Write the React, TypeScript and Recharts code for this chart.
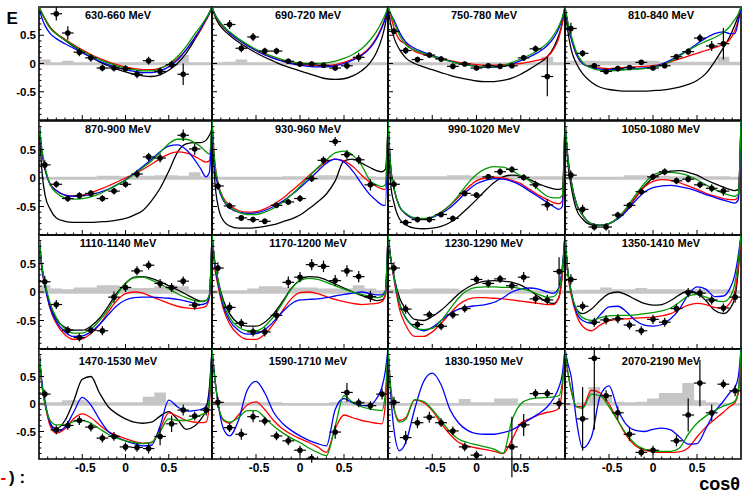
import React from 'react';
import { ComposedChart, Line, Area, Scatter, ErrorBar, XAxis, YAxis, ReferenceArea } from 'recharts';

// ---------- shared axes / binning ----------
const cosGrid = [-1, -0.97, -0.93, -0.87, -0.8, -0.7, -0.6, -0.5, -0.4, -0.3, -0.2, -0.1, 0, 0.1, 0.2, 0.3, 0.4, 0.5, 0.6, 0.7, 0.8, 0.87, 0.93, 0.97, 1];
const binCenters = [-0.933, -0.8, -0.667, -0.533, -0.4, -0.267, -0.133, 0, 0.133, 0.267, 0.4, 0.533, 0.667, 0.8, 0.933];
const binEdges = [-1, -0.867, -0.733, -0.6, -0.467, -0.333, -0.2, -0.067, 0.067, 0.2, 0.333, 0.467, 0.6, 0.733, 0.867, 1];
const binHalfWidth = 0.0667;
const minorTicks = [-0.9, -0.8, -0.7, -0.6, -0.5, -0.4, -0.3, -0.2, -0.1, 0, 0.1, 0.2, 0.3, 0.4, 0.5, 0.6, 0.7, 0.8, 0.9];
const majorTicks = [-0.5, 0, 0.5];
const histBase = -0.03;

const titles = [
  '630-660 MeV', '690-720 MeV', '750-780 MeV', '810-840 MeV',
  '870-900 MeV', '930-960 MeV', '990-1020 MeV', '1050-1080 MeV',
  '1110-1140 MeV', '1170-1200 MeV', '1230-1290 MeV', '1350-1410 MeV',
  '1470-1530 MeV', '1590-1710 MeV', '1830-1950 MeV', '2070-2190 MeV',
];

// ---------- measured E (per bin centre), null = no point ----------
const e1 = [null, 0.88, 0.54, 0.20, 0.10, -0.08, -0.08, -0.09, -0.19, 0.05, -0.14, -0.02, -0.19, null, null];
const s1 = [0, 0.12, 0.12, 0.07, 0.07, 0.06, 0.06, 0.06, 0.07, 0.07, 0.07, 0.07, 0.19, 0, 0];
const e2 = [null, 0.69, 0.27, 0.47, 0.22, 0.22, 0.04, -0.01, -0.01, -0.03, -0.08, -0.04, 0.11, null, null];
const s2 = [0, 0.08, 0.07, 0.07, 0.06, 0.06, 0.05, 0.05, 0.05, 0.05, 0.05, 0.06, 0.08, 0, 0];
const e3 = [0.57, 0.23, 0.07, 0.15, 0.08, -0.05, -0.01, -0.08, -0.04, -0.05, -0.04, 0.10, 0.26, -0.23, null];
const s3 = [0.06, 0.06, 0.05, 0.05, 0.05, 0.05, 0.04, 0.04, 0.04, 0.04, 0.04, 0.05, 0.06, 0.35, 0];
const e4 = [0.62, 0.18, -0.04, -0.14, -0.09, -0.07, 0.02, -0.08, -0.04, 0.12, 0.21, 0.45, 0.31, 0.35, null];
const s4 = [0.1, 0.06, 0.05, 0.05, 0.05, 0.04, 0.04, 0.04, 0.04, 0.05, 0.06, 0.07, 0.09, 0.28, 0];
const e5 = [0.23, -0.11, -0.36, -0.31, -0.27, -0.36, -0.23, -0.11, 0.07, 0.37, 0.35, null, 0.75, 0.51, null];
const s5 = [0.08, 0.06, 0.06, 0.06, 0.06, 0.06, 0.06, 0.06, 0.07, 0.07, 0.08, 0, 0.1, 0.1, 0];
const e6 = [-0.14, -0.49, -0.70, -0.73, -0.76, -0.48, -0.42, -0.36, -0.01, 0.31, 0.64, 0.41, 0.32, -0.12, null];
const s6 = [0.07, 0.06, 0.05, 0.05, 0.05, 0.05, 0.05, 0.06, 0.06, 0.07, 0.08, 0.08, 0.08, 0.1, 0];
const e7 = [-0.11, -0.78, -0.73, -0.73, -0.64, -0.71, -0.27, -0.30, 0.02, 0.11, 0.15, 0.01, -0.12, -0.47, null];
const s7 = [0.08, 0.05, 0.05, 0.05, 0.05, 0.05, 0.05, 0.05, 0.05, 0.06, 0.06, 0.06, 0.07, 0.1, 0];
const e8 = [0.05, -0.55, -0.86, -0.86, -0.65, -0.48, -0.24, 0.02, 0.11, -0.05, -0.02, -0.12, -0.18, -0.23, null];
const s8 = [0.08, 0.08, 0.06, 0.06, 0.06, 0.06, 0.06, 0.06, 0.06, 0.06, 0.06, 0.06, 0.07, 0.08, 0];
const e9 = [0.18, -0.22, -0.67, -0.80, -0.67, -0.68, -0.09, 0.08, 0.37, 0.47, 0.15, 0.08, 0.19, -0.23, null];
const s9 = [0.1, 0.08, 0.07, 0.07, 0.07, 0.08, 0.1, 0.08, 0.08, 0.08, 0.08, 0.08, 0.08, 0.08, 0];
const e10 = [0.42, -0.27, -0.55, -0.70, -0.70, -0.41, 0.17, 0.26, 0.48, 0.45, 0.20, 0.37, 0.27, -0.08, null];
const s10 = [0.1, 0.09, 0.08, 0.08, 0.08, 0.09, 0.1, 0.09, 0.1, 0.1, 0.1, 0.1, 0.1, 0.1, 0];
const e11 = [0.42, -0.30, -0.57, -0.40, -0.60, -0.40, -0.29, 0.22, 0.15, 0.23, 0.11, 0.26, -0.12, -0.14, 0.36];
const s11 = [0.1, 0.08, 0.07, 0.07, 0.07, 0.07, 0.07, 0.07, 0.07, 0.07, 0.07, 0.09, 0.09, 0.09, 0.25];
const e12 = [0.22, -0.25, -0.53, -0.49, -0.47, -0.58, -0.68, -0.48, -0.53, -0.29, -0.01, -0.02, -0.14, -0.28, -0.09];
const s12 = [0.09, 0.08, 0.08, 0.08, 0.08, 0.08, 0.08, 0.08, 0.08, 0.08, 0.08, 0.08, 0.08, 0.08, 0.1];
const e13 = [0.18, -0.47, -0.39, -0.30, -0.42, -0.62, -0.59, -0.78, -0.79, -0.81, -0.59, -0.36, -0.11, -0.22, -0.11];
const s13 = [0.08, 0.08, 0.08, 0.08, 0.08, 0.08, 0.08, 0.08, 0.08, 0.09, 0.16, 0.15, 0.1, 0.08, 0.1];
const e14 = [0.03, -0.43, -0.55, -0.23, -0.31, -0.58, -0.67, -0.84, -0.99, null, -0.51, 0.21, 0.02, -0.03, 0.18];
const s14 = [0.1, 0.08, 0.1, 0.1, 0.08, 0.08, 0.08, 0.08, 0.08, 0, 0.12, 0.17, 0.08, 0.08, 0.1];
const e15 = [0.03, -0.61, -0.34, -0.24, -0.34, -0.49, -0.78, -0.93, null, null, -0.78, -0.38, 0.19, 0.19, 0.01];
const s15 = [0.1, 0.12, 0.1, 0.1, 0.08, 0.08, 0.08, 0.08, 0, 0, 0.55, 0.2, 0.08, 0.08, 0.1];
const e16 = [null, -0.27, 0.83, 0.15, -0.16, -0.55, -0.88, -0.84, null, -0.67, -0.2, 0.38, -0.16, 0.36, 0.24];
const s16 = [0, 0.58, 1.3, 0.1, 0.12, 0.12, 0.08, 0.08, 0, 0.1, 0.3, 0.42, 0.15, 0.08, 0.1];

// ---------- systematic-error histograms (per bin) ----------
const h1 = [0.07, 0.02, 0.05, 0.02, 0.02, 0.02, 0.02, 0.02, 0.02, 0.02, 0.02, 0.02, 0.15, 0.02, 0.02];
const h2 = [0.02, 0.03, 0.07, 0.02, 0.02, 0.02, 0.02, 0.02, 0.02, 0.02, 0.02, 0.02, 0.02, 0.02, 0.02];
const h3 = [0.02, 0.02, 0.02, 0.02, 0.02, 0.02, 0.02, 0.02, 0.02, 0.02, 0.02, 0.02, 0.02, 0.12, 0.02];
const h4 = [0.05, 0.05, 0.05, 0.04, 0.04, 0.04, 0.05, 0.05, 0.03, 0.03, 0.03, 0.03, 0.03, 0.12, 0.03];
const h5 = [0.02, 0.02, 0.02, 0.02, 0.02, 0.04, 0.04, 0.03, 0.04, 0.04, 0.05, 0.05, 0.04, 0.1, 0.03];
const h6 = [0.02, 0.02, 0.02, 0.02, 0.02, 0.02, 0.03, 0.03, 0.03, 0.05, 0.05, 0.04, 0.03, 0.03, 0.02];
const h7 = [0.03, 0.03, 0.03, 0.03, 0.03, 0.05, 0.05, 0.04, 0.04, 0.04, 0.04, 0.03, 0.03, 0.03, 0.03];
const h8 = [0.02, 0.02, 0.02, 0.02, 0.02, 0.05, 0.05, 0.04, 0.04, 0.03, 0.03, 0.03, 0.03, 0.03, 0.02];
const h9 = [0.12, 0.06, 0.05, 0.08, 0.08, 0.12, 0.12, 0.08, 0.07, 0.07, 0.1, 0.12, 0.1, 0.04, 0.04];
const h10 = [0.03, 0.03, 0.03, 0.06, 0.1, 0.1, 0.08, 0.08, 0.08, 0.06, 0.06, 0.06, 0.12, 0.06, 0.03];
const h11 = [0.05, 0.05, 0.06, 0.06, 0.06, 0.06, 0.04, 0.04, 0.04, 0.04, 0.04, 0.03, 0.03, 0.03, 0.03];
const h12 = [0.03, 0.04, 0.04, 0.08, 0.05, 0.05, 0.07, 0.05, 0.05, 0.05, 0.05, 0.05, 0.05, 0.05, 0.03];
const h13 = [0.03, 0.03, 0.07, 0.07, 0.04, 0.03, 0.03, 0.03, 0.03, 0.13, 0.21, 0.03, 0.03, 0.03, 0.02];
const h14 = [0.03, 0.03, 0.03, 0.03, 0.03, 0.03, 0.02, 0.02, 0.02, 0.02, 0.03, 0.05, 0.05, 0.04, 0.03];
const h15 = [0.02, 0.02, 0.02, 0.02, 0.02, 0.02, 0.09, 0.03, 0.03, 0.1, 0.1, 0.02, 0.02, 0.02, 0.02];
const h16 = [0.02, 0.03, 0.31, 0.15, 0.04, 0.03, 0.04, 0.1, 0.2, 0.2, 0.38, 0.07, 0.03, 0.02, 0.02];

// ---------- model curves on cosGrid (k=black, r=red, b=blue, g=green) ----------
const k1 = [1, 0.9, 0.79, 0.64, 0.53, 0.41, 0.3, 0.2, 0.11, 0.03, -0.04, -0.1, -0.15, -0.19, -0.22, -0.23, -0.2, -0.12, 0.0, 0.18, 0.42, 0.6, 0.78, 0.9, 1];
const r1 = [1, 0.9, 0.78, 0.63, 0.53, 0.43, 0.33, 0.24, 0.16, 0.09, 0.03, -0.02, -0.06, -0.09, -0.11, -0.11, -0.08, -0.02, 0.08, 0.24, 0.45, 0.6, 0.76, 0.88, 1];
const b1 = [1, 0.82, 0.67, 0.53, 0.44, 0.35, 0.27, 0.19, 0.11, 0.04, -0.02, -0.07, -0.11, -0.14, -0.16, -0.16, -0.13, -0.06, 0.06, 0.24, 0.46, 0.62, 0.78, 0.89, 1];
const g1 = [1, 0.9, 0.78, 0.62, 0.52, 0.42, 0.32, 0.22, 0.14, 0.07, 0.01, -0.04, -0.08, -0.11, -0.13, -0.13, -0.09, -0.01, 0.12, 0.3, 0.52, 0.66, 0.8, 0.9, 1];

const k2 = [1, 0.85, 0.72, 0.6, 0.5, 0.38, 0.28, 0.19, 0.11, 0.04, -0.03, -0.08, -0.13, -0.18, -0.23, -0.27, -0.28, -0.27, -0.22, -0.13, 0.02, 0.2, 0.45, 0.7, 1];
const r2 = [1, 0.87, 0.76, 0.64, 0.54, 0.42, 0.32, 0.23, 0.16, 0.1, 0.05, 0.01, -0.02, -0.03, -0.04, -0.04, -0.02, 0.02, 0.08, 0.16, 0.3, 0.46, 0.65, 0.82, 1];
const b2 = [1, 0.88, 0.77, 0.65, 0.54, 0.42, 0.32, 0.23, 0.15, 0.09, 0.04, 0.0, -0.03, -0.05, -0.06, -0.06, -0.04, 0.0, 0.06, 0.14, 0.28, 0.44, 0.63, 0.8, 1];
const g2 = [1, 0.88, 0.78, 0.66, 0.56, 0.44, 0.34, 0.25, 0.18, 0.12, 0.07, 0.03, 0.01, 0.0, 0.0, 0.01, 0.04, 0.09, 0.16, 0.26, 0.42, 0.57, 0.74, 0.87, 1];

const k3 = [1, 0.7, 0.45, 0.25, 0.1, 0.0, -0.06, -0.11, -0.16, -0.21, -0.25, -0.28, -0.31, -0.32, -0.32, -0.3, -0.26, -0.19, -0.1, 0.0, 0.12, 0.28, 0.5, 0.72, 1];
const r3 = [1, 0.85, 0.62, 0.42, 0.35, 0.22, 0.16, 0.12, 0.08, 0.05, 0.02, 0.0, -0.02, -0.03, -0.03, -0.02, -0.01, 0.0, 0.03, 0.06, 0.12, 0.25, 0.45, 0.72, 1];
const b3 = [1, 0.88, 0.76, 0.55, 0.38, 0.27, 0.2, 0.14, 0.09, 0.04, 0.0, -0.03, -0.05, -0.07, -0.07, -0.05, -0.01, 0.05, 0.12, 0.2, 0.32, 0.45, 0.62, 0.8, 1];
const g3 = [1, 0.88, 0.72, 0.5, 0.33, 0.24, 0.18, 0.13, 0.08, 0.04, 0.0, -0.03, -0.05, -0.06, -0.06, -0.04, 0.02, 0.08, 0.15, 0.24, 0.36, 0.5, 0.66, 0.82, 1];

const k4 = [1, 0.6, 0.25, 0.0, -0.18, -0.33, -0.42, -0.46, -0.48, -0.49, -0.49, -0.49, -0.48, -0.47, -0.45, -0.42, -0.37, -0.3, -0.18, 0.03, 0.28, 0.47, 0.68, 0.85, 1];
const r4 = [1, 0.72, 0.45, 0.16, 0.0, -0.06, -0.08, -0.09, -0.08, -0.07, -0.06, -0.05, -0.04, -0.01, 0.03, 0.08, 0.13, 0.18, 0.23, 0.28, 0.34, 0.42, 0.58, 0.78, 1];
const b4 = [1, 0.72, 0.45, 0.16, 0.0, -0.07, -0.1, -0.11, -0.11, -0.1, -0.09, -0.08, -0.06, -0.01, 0.06, 0.15, 0.24, 0.35, 0.45, 0.53, 0.56, 0.53, 0.53, 0.75, 1];
const g4 = [1, 0.75, 0.5, 0.2, 0.02, -0.08, -0.12, -0.13, -0.12, -0.11, -0.1, -0.09, -0.07, -0.03, 0.04, 0.13, 0.23, 0.32, 0.39, 0.46, 0.55, 0.65, 0.78, 0.88, 1];

const k5 = [1, 0.2, -0.3, -0.55, -0.7, -0.76, -0.78, -0.78, -0.78, -0.77, -0.76, -0.74, -0.71, -0.65, -0.57, -0.4, -0.18, 0.12, 0.45, 0.6, 0.62, 0.62, 0.66, 0.75, 0.85];
const r5 = [1, 0.5, 0.15, -0.1, -0.22, -0.3, -0.32, -0.3, -0.26, -0.2, -0.14, -0.07, 0.0, 0.07, 0.15, 0.24, 0.34, 0.42, 0.46, 0.44, 0.38, 0.32, 0.28, 0.3, 1];
const b5 = [1, 0.5, 0.15, -0.12, -0.22, -0.3, -0.32, -0.31, -0.29, -0.25, -0.2, -0.12, -0.03, 0.08, 0.2, 0.33, 0.46, 0.56, 0.58, 0.5, 0.32, 0.16, 0.02, 0.1, 1];
const g5 = [1, 0.55, 0.2, -0.12, -0.26, -0.35, -0.37, -0.36, -0.33, -0.28, -0.2, -0.12, -0.04, 0.06, 0.18, 0.3, 0.45, 0.6, 0.68, 0.68, 0.62, 0.55, 0.46, 0.42, 1];

const k6 = [1, 0.0, -0.5, -0.75, -0.84, -0.88, -0.88, -0.87, -0.85, -0.82, -0.77, -0.72, -0.65, -0.54, -0.42, -0.28, -0.05, 0.3, 0.33, 0.26, 0.18, 0.13, 0.11, 0.15, 0.85];
const r6 = [1, 0.3, -0.1, -0.35, -0.47, -0.57, -0.6, -0.59, -0.54, -0.46, -0.36, -0.23, -0.1, 0.04, 0.17, 0.28, 0.33, 0.3, 0.2, 0.05, -0.08, -0.15, -0.19, -0.2, 1];
const b6 = [1, 0.2, -0.15, -0.4, -0.52, -0.6, -0.62, -0.61, -0.57, -0.5, -0.41, -0.3, -0.17, -0.03, 0.12, 0.26, 0.33, 0.28, 0.12, -0.1, -0.3, -0.4, -0.47, -0.48, 1];
const g6 = [1, 0.3, -0.1, -0.38, -0.5, -0.6, -0.64, -0.64, -0.6, -0.53, -0.43, -0.3, -0.15, 0.02, 0.18, 0.32, 0.44, 0.47, 0.4, 0.22, -0.05, -0.12, -0.15, -0.12, 1];

const k7 = [1, -0.1, -0.45, -0.72, -0.82, -0.88, -0.89, -0.88, -0.85, -0.78, -0.67, -0.53, -0.38, -0.22, -0.08, 0.02, 0.05, 0.03, -0.03, -0.1, -0.16, -0.19, -0.2, -0.18, 1];
const r7 = [1, 0.2, -0.2, -0.5, -0.63, -0.71, -0.72, -0.69, -0.6, -0.48, -0.33, -0.17, -0.05, 0.0, 0.01, 0.0, -0.04, -0.1, -0.2, -0.3, -0.38, -0.43, -0.45, -0.4, 1];
const b7 = [1, 0.2, -0.2, -0.5, -0.63, -0.71, -0.72, -0.69, -0.62, -0.52, -0.38, -0.22, -0.1, -0.04, -0.01, -0.02, -0.06, -0.13, -0.23, -0.33, -0.43, -0.5, -0.55, -0.5, 1];
const g7 = [1, 0.2, -0.2, -0.5, -0.62, -0.7, -0.71, -0.68, -0.6, -0.48, -0.3, -0.1, 0.06, 0.16, 0.2, 0.19, 0.13, 0.04, -0.05, -0.2, -0.32, -0.35, -0.35, -0.3, 1];

const k8 = [1, 0.3, -0.15, -0.55, -0.72, -0.82, -0.83, -0.8, -0.7, -0.55, -0.35, -0.15, 0.0, 0.08, 0.12, 0.13, 0.1, 0.05, -0.03, -0.1, -0.16, -0.2, -0.22, -0.2, 1];
const r8 = [1, 0.4, -0.05, -0.45, -0.65, -0.8, -0.83, -0.8, -0.7, -0.54, -0.34, -0.16, -0.06, -0.03, -0.04, -0.08, -0.14, -0.2, -0.27, -0.32, -0.36, -0.38, -0.38, -0.32, 1];
const b8 = [1, 0.4, -0.05, -0.45, -0.65, -0.8, -0.83, -0.8, -0.72, -0.58, -0.4, -0.25, -0.17, -0.14, -0.13, -0.15, -0.18, -0.23, -0.29, -0.34, -0.39, -0.42, -0.44, -0.38, 1];
const g8 = [1, 0.4, -0.05, -0.45, -0.65, -0.8, -0.83, -0.8, -0.7, -0.52, -0.3, -0.1, 0.05, 0.1, 0.1, 0.08, 0.04, -0.03, -0.12, -0.2, -0.27, -0.3, -0.32, -0.28, 1];

const k9 = [1, 0.5, 0.15, -0.25, -0.48, -0.62, -0.67, -0.67, -0.6, -0.46, -0.25, -0.02, 0.15, 0.26, 0.27, 0.24, 0.18, 0.11, 0.04, -0.04, -0.12, -0.16, -0.15, -0.05, 1];
const r9 = [1, 0.45, 0.1, -0.3, -0.55, -0.75, -0.83, -0.82, -0.73, -0.57, -0.35, -0.15, -0.03, 0.0, -0.02, -0.08, -0.14, -0.2, -0.25, -0.28, -0.29, -0.28, -0.25, -0.1, 1];
const b9 = [1, 0.45, 0.1, -0.28, -0.52, -0.7, -0.78, -0.77, -0.7, -0.57, -0.4, -0.24, -0.14, -0.1, -0.09, -0.09, -0.1, -0.11, -0.13, -0.16, -0.2, -0.22, -0.2, -0.08, 1];
const g9 = [1, 0.5, 0.15, -0.2, -0.45, -0.65, -0.72, -0.72, -0.65, -0.5, -0.3, -0.05, 0.15, 0.25, 0.26, 0.21, 0.14, 0.06, -0.03, -0.1, -0.15, -0.17, -0.15, -0.05, 1];

const k10 = [1, 0.55, 0.2, -0.15, -0.38, -0.55, -0.6, -0.6, -0.53, -0.38, -0.17, 0.06, 0.21, 0.27, 0.26, 0.21, 0.14, 0.07, 0.0, -0.06, -0.12, -0.15, -0.14, -0.05, 1];
const r10 = [1, 0.45, 0.1, -0.3, -0.56, -0.75, -0.83, -0.83, -0.74, -0.56, -0.33, -0.12, -0.01, 0.0, -0.03, -0.08, -0.13, -0.17, -0.2, -0.22, -0.21, -0.2, -0.17, -0.05, 1];
const b10 = [1, 0.5, 0.15, -0.25, -0.5, -0.67, -0.74, -0.73, -0.66, -0.52, -0.35, -0.21, -0.14, -0.13, -0.12, -0.1, -0.07, -0.04, -0.02, 0.0, -0.03, -0.05, -0.05, 0.02, 1];
const g10 = [1, 0.55, 0.2, -0.2, -0.45, -0.62, -0.68, -0.68, -0.6, -0.43, -0.2, 0.05, 0.2, 0.24, 0.22, 0.17, 0.11, 0.05, 0.0, -0.04, -0.08, -0.1, -0.08, 0.0, 1];

const k11 = [1, 0.6, 0.25, -0.1, -0.3, -0.48, -0.5, -0.43, -0.32, -0.18, -0.03, 0.08, 0.15, 0.19, 0.2, 0.19, 0.17, 0.12, 0.03, -0.08, -0.18, -0.2, -0.1, 0.35, 1];
const r11 = [1, 0.6, 0.2, -0.3, -0.58, -0.78, -0.78, -0.7, -0.55, -0.38, -0.22, -0.13, -0.1, -0.1, -0.11, -0.12, -0.14, -0.16, -0.18, -0.2, -0.22, -0.22, -0.1, 0.3, 1];
const b11 = [1, 0.6, 0.25, -0.2, -0.45, -0.62, -0.68, -0.62, -0.5, -0.38, -0.3, -0.26, -0.24, -0.22, -0.18, -0.1, 0.0, 0.05, 0.07, 0.05, 0.0, -0.02, 0.08, 0.45, 1];
const g11 = [1, 0.6, 0.25, -0.2, -0.45, -0.62, -0.66, -0.64, -0.5, -0.3, -0.1, 0.03, 0.08, 0.09, 0.09, 0.08, 0.08, 0.06, 0.02, -0.04, -0.09, -0.08, 0.05, 0.4, 1];

const k12 = [1, 0.4, 0.0, -0.3, -0.38, -0.3, -0.15, -0.03, 0.0, -0.05, -0.13, -0.2, -0.23, -0.22, -0.15, -0.05, 0.02, -0.02, -0.15, -0.32, -0.38, -0.3, -0.1, 0.4, 1];
const r12 = [1, 0.35, -0.05, -0.4, -0.6, -0.68, -0.58, -0.5, -0.48, -0.47, -0.46, -0.45, -0.44, -0.42, -0.38, -0.3, -0.23, -0.2, -0.22, -0.27, -0.28, -0.2, 0.0, 0.45, 1];
const b12 = [1, 0.4, 0.0, -0.35, -0.5, -0.55, -0.4, -0.26, -0.25, -0.35, -0.5, -0.58, -0.6, -0.57, -0.47, -0.3, -0.05, 0.09, 0.05, -0.08, -0.07, 0.05, 0.3, 0.65, 1];
const g12 = [1, 0.4, 0.0, -0.3, -0.45, -0.5, -0.45, -0.42, -0.41, -0.41, -0.4, -0.38, -0.36, -0.33, -0.28, -0.18, -0.07, -0.04, -0.09, -0.15, -0.17, -0.1, 0.15, 0.55, 1];

const k13 = [1, 0.4, 0.0, -0.35, -0.45, -0.3, 0.05, 0.45, 0.5, 0.2, -0.05, -0.18, -0.27, -0.33, -0.35, -0.33, -0.22, -0.14, -0.28, -0.46, -0.4, -0.28, -0.1, 0.3, 1];
const r13 = [1, 0.4, 0.0, -0.4, -0.53, -0.45, -0.27, -0.18, -0.25, -0.38, -0.5, -0.57, -0.63, -0.68, -0.71, -0.7, -0.45, -0.16, -0.22, -0.3, -0.33, -0.34, -0.33, 0.0, 1];
const b13 = [1, 0.45, 0.05, -0.35, -0.5, -0.42, -0.15, 0.12, -0.02, -0.28, -0.5, -0.6, -0.67, -0.72, -0.76, -0.75, -0.4, 0.07, -0.05, -0.13, -0.12, -0.1, -0.05, 0.2, 1];
const g13 = [1, 0.4, 0.0, -0.3, -0.38, -0.38, -0.32, -0.3, -0.35, -0.45, -0.55, -0.62, -0.67, -0.7, -0.72, -0.7, -0.5, -0.27, -0.3, -0.3, -0.25, -0.2, -0.15, 0.1, 1];

const r14 = [1, 0.5, 0.0, -0.3, -0.35, -0.2, -0.02, 0.04, -0.1, -0.3, -0.45, -0.55, -0.63, -0.7, -0.78, -0.88, -0.45, -0.2, -0.25, -0.3, -0.33, -0.35, -0.36, 0.0, 1];
const b14 = [1, 0.5, 0.0, -0.45, -0.58, -0.3, 0.25, 0.41, 0.2, -0.15, -0.35, -0.48, -0.58, -0.66, -0.72, -0.76, -0.1, 0.1, 0.02, -0.03, -0.02, 0.1, 0.3, 0.6, 1];
const g14 = [1, 0.5, 0.0, -0.28, -0.33, -0.25, -0.12, -0.12, -0.25, -0.4, -0.52, -0.62, -0.7, -0.8, -0.88, -0.94, -0.4, 0.15, 0.03, -0.05, -0.09, -0.11, -0.12, 0.2, 1];

const r15 = [1, 0.3, -0.1, -0.3, -0.25, 0.07, 0.03, -0.12, -0.35, -0.55, -0.7, -0.76, -0.8, -0.83, -0.86, -0.9, -0.65, -0.35, -0.27, -0.2, -0.15, -0.13, -0.08, 0.3, 1];
const b15 = [1, 0.2, -0.5, -0.85, -0.7, -0.1, 0.4, 0.56, 0.35, -0.1, -0.35, -0.48, -0.54, -0.55, -0.55, -0.52, -0.47, -0.38, -0.28, -0.18, -0.05, 0.1, 0.3, 0.55, 1];
const g15 = [1, 0.3, -0.1, -0.33, -0.28, 0.08, 0.05, -0.1, -0.3, -0.5, -0.64, -0.7, -0.74, -0.78, -0.82, -0.9, -0.3, 0.0, 0.09, 0.11, 0.12, 0.13, 0.15, 0.4, 1];

const r16 = [1, 0.6, 0.25, -0.05, -0.05, 0.25, 0.2, 0.0, -0.3, -0.58, -0.76, -0.84, -0.87, -0.88, -0.88, -0.87, -0.8, -0.6, -0.42, -0.28, -0.15, -0.05, 0.02, 0.2, 1];
const b16 = [1, 0.75, 0.5, -0.3, -0.8, -0.6, 0.15, 0.33, -0.1, -0.38, -0.48, -0.5, -0.46, -0.44, -0.47, -0.6, -0.73, -0.72, -0.45, -0.15, 0.05, 0.2, 0.3, 0.5, 1];
const g16 = [1, 0.6, 0.25, -0.05, -0.08, 0.18, 0.15, -0.05, -0.3, -0.55, -0.73, -0.82, -0.85, -0.86, -0.86, -0.8, -0.55, -0.35, -0.22, -0.12, -0.04, 0.0, 0.05, 0.25, 1];

// ---------- layout ----------
const colLeft = [39, 212, 388, 565];
const colWidth = [173, 176, 177, 176];
const rowTop = [7, 121, 235, 349];
const rowHeight = [113, 114, 114, 110];
const titleCenter = [118, 308, 484, 661];
const titleBase = [19.3, 133.3, 246.7, 365];

const FONT = '"Liberation Sans", Arial, Helvetica, sans-serif';
const GREEN = '#009a00';

type PanelDef = {
  title: string;
  k: number[] | null; r: number[]; b: number[]; g: number[];
  e: (number | null)[]; s: number[]; h: number[];
};

const panels: PanelDef[] = [
  { title: titles[0], k: k1, r: r1, b: b1, g: g1, e: e1, s: s1, h: h1 },
  { title: titles[1], k: k2, r: r2, b: b2, g: g2, e: e2, s: s2, h: h2 },
  { title: titles[2], k: k3, r: r3, b: b3, g: g3, e: e3, s: s3, h: h3 },
  { title: titles[3], k: k4, r: r4, b: b4, g: g4, e: e4, s: s4, h: h4 },
  { title: titles[4], k: k5, r: r5, b: b5, g: g5, e: e5, s: s5, h: h5 },
  { title: titles[5], k: k6, r: r6, b: b6, g: g6, e: e6, s: s6, h: h6 },
  { title: titles[6], k: k7, r: r7, b: b7, g: g7, e: e7, s: s7, h: h7 },
  { title: titles[7], k: k8, r: r8, b: b8, g: g8, e: e8, s: s8, h: h8 },
  { title: titles[8], k: k9, r: r9, b: b9, g: g9, e: e9, s: s9, h: h9 },
  { title: titles[9], k: k10, r: r10, b: b10, g: g10, e: e10, s: s10, h: h10 },
  { title: titles[10], k: k11, r: r11, b: b11, g: g11, e: e11, s: s11, h: h11 },
  { title: titles[11], k: k12, r: r12, b: b12, g: g12, e: e12, s: s12, h: h12 },
  { title: titles[12], k: k13, r: r13, b: b13, g: g13, e: e13, s: s13, h: h13 },
  { title: titles[13], k: null, r: r14, b: b14, g: g14, e: e14, s: s14, h: h14 },
  { title: titles[14], k: null, r: r15, b: b15, g: g15, e: e15, s: s15, h: h15 },
  { title: titles[15], k: null, r: r16, b: b16, g: g16, e: e16, s: s16, h: h16 },
];

const curve = (vals: number[]) => vals.map((y, i) => ({ x: cosGrid[i], y }));
const hist = (h: number[]) => binEdges.map((x, i) => ({ x, y: h[Math.min(i, h.length - 1)] }));
const points = (e: (number | null)[], s: number[]) =>
  binCenters
    .map((x, i) => ({ x, y: e[i], ex: binHalfWidth, ey: s[i] }))
    .filter((d) => d.y !== null);

const fmt = (v: number) => (v === 0 ? '0' : String(v));

const makeXTick = (showLabel: boolean) => (props: any) => {
  const { x, y, payload } = props;
  const v = payload.value;
  const major = majorTicks.includes(v);
  const len = major ? 5 : 2.5;
  return (
    <g>
      <line x1={x} x2={x} y1={y} y2={y - len} stroke="#000" strokeWidth={1} />
      {showLabel && major ? (
        <text x={x + (v < 0 ? 3 : 0)} y={y + 13} textAnchor="middle" fontSize={12} fontWeight="bold" fontFamily={FONT} fill="#000">
          {fmt(v)}
        </text>
      ) : null}
    </g>
  );
};

const makeYTick = (showLabel: boolean) => (props: any) => {
  const { x, y, payload } = props;
  const v = payload.value;
  const major = majorTicks.includes(v);
  const len = major ? 5 : 2.5;
  return (
    <g>
      <line x1={x} x2={x + len} y1={y} y2={y} stroke="#000" strokeWidth={1} />
      {showLabel && major ? (
        <text x={x - 3} y={y + 4} textAnchor="end" fontSize={11.5} fontWeight="bold" fontFamily={FONT} fill="#000">
          {fmt(v)}
        </text>
      ) : null}
    </g>
  );
};

const Dot = (p: any) => <circle cx={p.cx} cy={p.cy} r={2.8} fill="#000" />;

function Panel({ p, idx }: { p: PanelDef; idx: number }) {
  const row = Math.floor(idx / 4);
  const col = idx % 4;
  const leftCol = col === 0;
  const bottomRow = row === 3;
  const yw = leftCol ? 40 : 2;
  const xh = bottomRow ? 24 : 2;
  const mt = 2;
  const mr = 2;
  const W = colWidth[col];
  const H = rowHeight[row];
  const width = yw + W + mr;
  const height = mt + H + xh;
  return (
    <div style={{ position: 'absolute', left: colLeft[col] - yw, top: rowTop[row] - mt, width, height }}>
      <ComposedChart width={width} height={height} margin={{ top: mt, right: mr, bottom: 0, left: 0 }}>
        <XAxis
          dataKey="x"
          type="number"
          domain={[-1, 1]}
          allowDataOverflow
          ticks={minorTicks}
          interval={0}
          tickLine={false}
          axisLine={false}
          tickSize={0}
          tickMargin={0}
          height={xh}
          tick={makeXTick(bottomRow)}
        />
        <YAxis
          dataKey="y"
          type="number"
          domain={[-1, 1]}
          allowDataOverflow
          ticks={minorTicks}
          interval={0}
          tickLine={false}
          axisLine={false}
          tickSize={0}
          tickMargin={0}
          width={yw}
          tick={makeYTick(leftCol)}
        />
        <Area data={hist(p.h)} dataKey="y" type="stepAfter" baseValue={histBase} fill="#c6c6c6" fillOpacity={1} stroke="none" isAnimationActive={false} />
        {p.k ? <Line data={curve(p.k)} dataKey="y" type="monotone" stroke="#000" strokeWidth={1.3} dot={false} isAnimationActive={false} /> : null}
        <Line data={curve(p.r)} dataKey="y" type="monotone" stroke="#ff0000" strokeWidth={1.3} dot={false} isAnimationActive={false} />
        <Line data={curve(p.b)} dataKey="y" type="monotone" stroke="#0000ff" strokeWidth={1.3} dot={false} isAnimationActive={false} />
        <Line data={curve(p.g)} dataKey="y" type="monotone" stroke={GREEN} strokeWidth={1.3} dot={false} isAnimationActive={false} />
        <Scatter data={points(p.e, p.s)} dataKey="y" fill="#000" shape={Dot} isAnimationActive={false}>
          <ErrorBar dataKey="ey" direction="y" width={0} stroke="#000" strokeWidth={1.2} />
          <ErrorBar dataKey="ex" direction="x" width={0} stroke="#000" strokeWidth={1.2} />
        </Scatter>
        <ReferenceArea x1={-1} x2={1} y1={-1} y2={1} fill="none" fillOpacity={0} stroke="#000" strokeWidth={1.6} />
      </ComposedChart>
    </div>
  );
}

export default function App() {
  return (
    <div style={{ position: 'absolute', left: 0, top: 0, width: 742, height: 493, background: '#fff', overflow: 'hidden' }}>
      {panels.map((p, i) => (
        <Panel key={i} p={p} idx={i} />
      ))}
      <svg width={742} height={493} style={{ position: 'absolute', left: 0, top: 0, pointerEvents: 'none' }}>
        {panels.map((p, i) => (
          <text
            key={i}
            x={titleCenter[i % 4]}
            y={titleBase[Math.floor(i / 4)]}
            textAnchor="middle"
            fontSize={11}
            fontWeight="bold"
            fontFamily={FONT}
            fill="#000"
          >
            {p.title}
          </text>
        ))}
        <text x={6.5} y={24} fontSize={17} fontWeight="bold" fontFamily={FONT} fill="#000">E</text>
        <text x={740} y={490} textAnchor="end" fontSize={18} fontWeight="bold" fontFamily={FONT} fill="#000">cosθ</text>
        <text x={0.5} y={483} fontSize={17} fontWeight="bold" fontFamily={FONT} fill="#ff0000">-</text>
        <text x={9} y={483} fontSize={17} fontWeight="bold" fontFamily={FONT} fill="#000">) :</text>
      </svg>
    </div>
  );
}
